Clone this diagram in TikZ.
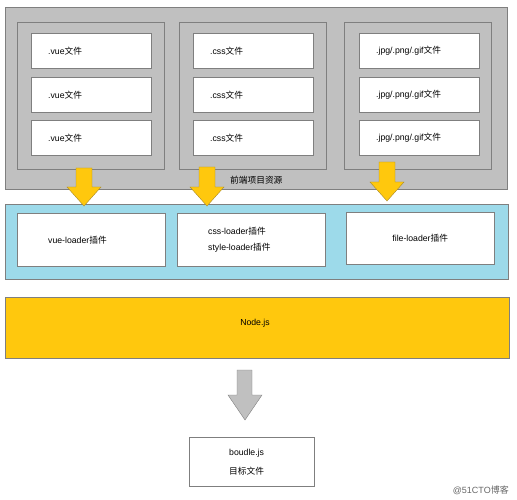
\documentclass[tikz,border=0pt]{standalone}
\usepackage{fontspec}
\setmainfont{Liberation Sans}
\newfontfamily\cjk{Noto Sans CJK SC}
\usetikzlibrary{positioning}
\definecolor{srcgray}{HTML}{C0C0C0}
\definecolor{edgegray}{HTML}{7F7F7F}
\definecolor{loaderblue}{HTML}{9DDAEA}
\definecolor{nodeyellow}{HTML}{FFC80D}
\definecolor{arrowedge}{HTML}{A88A2A}
\definecolor{markgray}{HTML}{666666}

\begin{document}
\begin{tikzpicture}
  [
    x=1pt, y=-1pt,
    every node/.style={font=\fontsize{8.7}{10}\selectfont},
    grp/.style={draw=edgegray, fill=srcgray, anchor=north west, inner sep=0pt},
    filebox/.style={draw=edgegray, fill=white, anchor=north west, minimum width=120pt, minimum height=35pt,
      inner xsep=17pt, text width=86pt, align=left},
    loaderbox/.style={draw=edgegray, fill=white, anchor=north west, minimum width=148pt, minimum height=53pt,
      inner xsep=31pt, text width=86pt, align=left},
    yarrow/.style={draw=arrowedge, fill=nodeyellow},
    garrow/.style={draw=edgegray, fill=srcgray}
  ]
  \useasboundingbox (0,0) rectangle (517,500);

  % front-end resources
  \node [grp, minimum width=502pt, minimum height=182pt] at (5,7) (src) {};
  \node [anchor=west, inner sep=0pt] at (230,180) (srclabel) {\cjk 前端项目资源};
  \foreach \gx/\name in {17/vue, 179/css, 344/img}{
    \node [grp, minimum width=147pt, minimum height=147pt] at (\gx,22) (\name grp) {};
  }
  \foreach \fy [count=\idx] in {33, 77, 120}{
    \node [filebox] at (31,\fy) (vue\idx) {.vue{\cjk 文件}};
    \node [filebox] at (193,\fy) (css\idx) {.css{\cjk 文件}};
    \node [filebox] at (359,\fy) (img\idx) {.jpg/.png/.gif{\cjk 文件}};
  }

  % loaders
  \node [draw=edgegray, fill=loaderblue, anchor=north west, minimum width=503pt, minimum height=75pt] at (5,204) (loaders) {};
  \node [loaderbox] at (17,213) (vueloader) {vue-loader{\cjk 插件}};
  \node [loaderbox, font=\fontsize{8.7}{16}\selectfont] at (177,213) (cssloader) {css-loader{\cjk 插件}\\style-loader{\cjk 插件}};
  \node [loaderbox, minimum height=52pt, inner xsep=10pt, text width=128pt, align=center] at (346,212) (fileloader) {file-loader{\cjk 插件}};

  \foreach \cx/\top/\base in {84/168/187, 207/167/187, 387/162/182}{
    \draw [yarrow] (\cx-8,\top) -- (\cx+8,\top) -- (\cx+8,\base) -- (\cx+17,\base)
      -- (\cx,\base+19) -- (\cx-17,\base) -- (\cx-8,\base) -- cycle;
  }

  % node.js
  \node [draw=edgegray, fill=nodeyellow, anchor=north west, minimum width=504pt, minimum height=61pt] at (5,297) (nodejs) {};
  \node at (255,323) (nodejslabel) {Node.js};
  \draw [garrow] (237,370) -- (252,370) -- (252,395) -- (262,395) -- (245,420) -- (228,395) -- (237,395) -- cycle;

  % output
  \node [draw=edgegray, fill=white, anchor=north west, minimum width=125pt, minimum height=49pt,
    inner xsep=40pt, text width=45pt, font=\fontsize{8.7}{19}\selectfont, align=left] at (189,437) (bundle) {boudle.js\\{\cjk 目标文件}};
  \node [anchor=east, inner sep=0pt, text=markgray, font=\fontsize{9}{10}\selectfont] at (509,490) (mark) {@51CTO{\cjk 博客}};

\end{tikzpicture}
\end{document}
